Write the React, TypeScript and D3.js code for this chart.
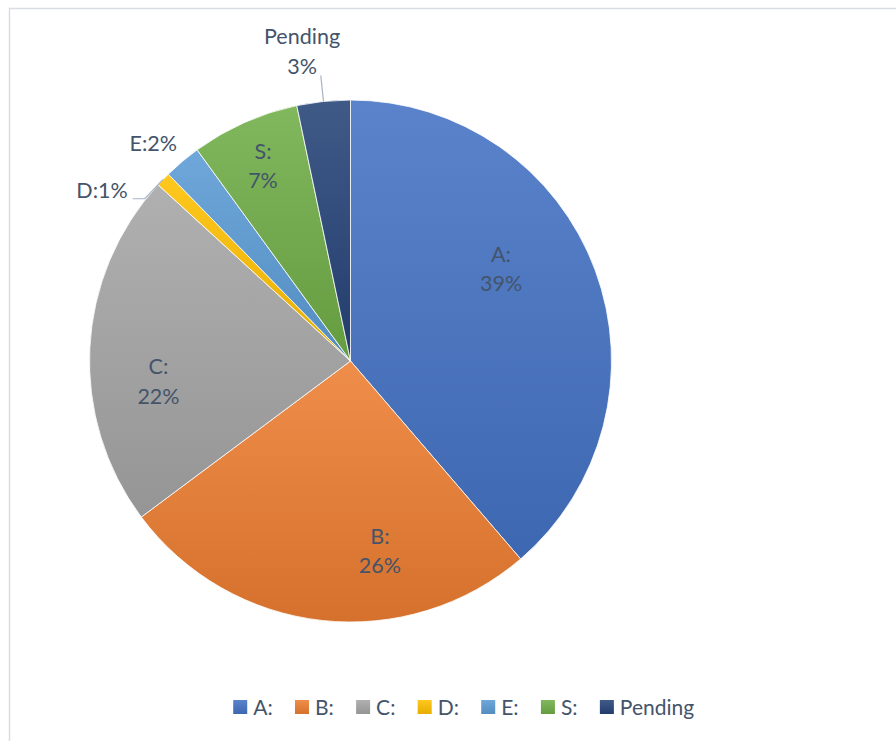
import React, { useEffect, useRef } from "react";
import * as d3 from "d3";

const categories = ["A:", "B:", "C:", "D:", "E:", "S:", "Pending"];
const values = [38.7, 26.1, 22.0, 0.9, 2.3, 6.7, 3.3];
const percentLabels = ["39%", "26%", "22%", "1%", "2%", "7%", "3%"];
const colors = ["#4472C4", "#ED7D31", "#A5A5A5", "#FFC000", "#5B9BD5", "#70AD47", "#264478"];

// label placement (annotation layout): angle in degrees from 12 o'clock, radius as fraction of pie radius
const labelAngles = [58.7, 171.2, 263.9, 304.5, 317.8, 335.8, 351.1];
const labelRadii = [0.675, 0.737, 0.74, 1.155, 1.125, 0.818, 1.2];
const labelTwoLine = [true, true, true, false, false, true, true];

const W = 896;
const H = 741;
const CX = 350.5;
const CY = 361;
const R = 261;
const FONT = "Lato, 'DejaVu Sans', sans-serif";
const TEXT = "#44546A";

export default function App() {
  const ref = useRef<SVGSVGElement | null>(null);
  useEffect(() => {
    const svg = d3.select(ref.current);
    svg.selectAll("*").remove();

    // frame
    svg.append("rect").attr("x", 9.5).attr("y", 8.5).attr("width", 1000).attr("height", 1000)
      .attr("fill", "#fff").attr("stroke", "#D9DDE3").attr("stroke-width", 1.5);

    const defs = svg.append("defs");
    colors.forEach((c, i) => {
      const g = defs.append("linearGradient").attr("id", "grad" + i)
        .attr("x1", 0).attr("y1", 0).attr("x2", 0).attr("y2", 1);
      g.append("stop").attr("offset", "0%").attr("stop-color", d3.interpolateRgb(c, "#ffffff")(0.12));
      g.append("stop").attr("offset", "100%").attr("stop-color", d3.interpolateRgb(c, "#000000")(0.1));
    });

    const pie = d3.pie<number>().sort(null).value((d) => d);
    const arcs = pie(values);
    const arc = d3.arc<d3.PieArcDatum<number>>().innerRadius(0).outerRadius(R);

    const g = svg.append("g").attr("transform", `translate(${CX},${CY})`);
    g.selectAll("path.slice").data(arcs).enter().append("path")
      .attr("class", "slice")
      .attr("d", arc as any)
      .attr("fill", (_d, i) => `url(#grad${i})`)
      .attr("stroke", "#ffffff").attr("stroke-width", 0.8);

    const polar = (deg: number, r: number) => {
      const a = (deg * Math.PI) / 180;
      return [Math.sin(a) * r, -Math.cos(a) * r];
    };

    const leader = "#A6B3C6";
    {
      const a = arcs[6];
      const mid = ((a.startAngle + a.endAngle) / 2) * 180 / Math.PI;
      const p1 = polar(mid, R);
      const p2 = polar(mid, R * 1.1);
      g.append("line").attr("x1", p1[0]).attr("y1", p1[1]).attr("x2", p2[0]).attr("y2", p2[1])
        .attr("stroke", leader).attr("stroke-width", 1.2);
    }

    categories.forEach((cat, i) => {
      const [x, y] = polar(labelAngles[i], labelRadii[i] * R);
      const t = g.append("text").attr("text-anchor", "middle")
        .attr("font-family", FONT).attr("font-size", 21.5).attr("fill", TEXT);
      if (labelTwoLine[i]) {
        t.append("tspan").attr("x", x).attr("y", y - 7.2).text(cat);
        t.append("tspan").attr("x", x).attr("y", y + 22).text(percentLabels[i]);
      } else {
        t.attr("x", x).attr("y", y + 7.5).text(cat + percentLabels[i]);
        if (i === 3) {
          const bb = (t.node() as SVGTextElement).getBBox();
          const a = arcs[i];
          const mid = ((a.startAngle + a.endAngle) / 2) * 180 / Math.PI;
          const p1 = polar(mid, R);
          const x0 = bb.x + bb.width + 5;
          const yl = y + 8.5;
          g.append("polyline")
            .attr("points", `${x0},${yl} ${x0 + 12},${yl} ${p1[0]},${p1[1]}`)
            .attr("fill", "none").attr("stroke", leader).attr("stroke-width", 1.2);
        }
      }
    });

    // legend
    const leg = svg.append("g");
    let cursor = 0;
    const sq = 14;
    const gap = 22.3;
    categories.forEach((cat, i) => {
      const it = leg.append("g");
      it.append("rect").attr("x", cursor).attr("y", 700).attr("width", sq).attr("height", sq)
        .attr("fill", `url(#grad${i})`);
      const tx = it.append("text").attr("x", cursor + sq + 6).attr("y", 714.5)
        .attr("font-family", FONT).attr("font-size", 21).attr("fill", TEXT).text(cat);
      const w = (tx.node() as SVGTextElement).getComputedTextLength();
      cursor += sq + 6 + w + gap;
    });
    const total = cursor - gap;
    const legCenter = 463.7;
    leg.attr("transform", `translate(${legCenter - total / 2},0)`);
  }, []);

  return (
    <svg ref={ref} width={W} height={H}
      style={{ position: "absolute", left: 0, top: 0, display: "block", background: "#fff" }} />
  );
}
